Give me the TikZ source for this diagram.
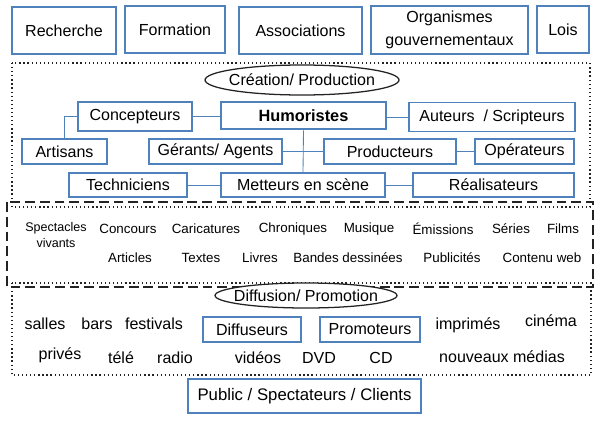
\documentclass[tikz,border=0pt]{standalone}
\usepackage{fontspec}
\setmainfont{Liberation Sans}
\usepackage{tikz}
\usetikzlibrary{shapes.geometric}
\definecolor{hmblue}{RGB}{79,129,189}
\definecolor{hmline}{RGB}{35,35,35}
\tikzset{
  hmBox/.style={draw=hmblue, line width=1.1pt, fill=white, align=center,
                inner sep=0pt, font=\fontsize{11.4}{16.4}\selectfont},
  hmBold/.style={hmBox, line width=1.8pt, font=\fontsize{11.6}{14}\selectfont\bfseries},
  hmOval/.style={draw=hmline, line width=0.9pt, fill=white},
  hmTitle/.style={inner sep=0pt, font=\fontsize{11.4}{13}\selectfont},
  hmLink/.style={draw=hmblue, line width=0.6pt},
  hmZone/.style={draw=hmline, line width=0.9pt, dotted},
  hmGroup/.style={draw=hmline, line width=0.9pt, dash pattern=on 7pt off 3.5pt},
  hmWord/.style={inner sep=0pt, font=\fontsize{9.5}{11}\selectfont},
  hmMedia/.style={inner sep=0pt, font=\fontsize{11.4}{13}\selectfont}
}

\begin{document}
\begin{tikzpicture}[x=0.025cm,y=-0.025cm]
  \useasboundingbox (0,0) rectangle (602,420);

  % environnement
  \node[hmBox, minimum width=2.6cm, minimum height=1.175cm] (rech) at (64,30.5) {Recherche};
  \node[hmBox, minimum width=2.5cm, minimum height=1.175cm] (form) at (175,29.5) {Formation};
  \node[hmBox, minimum width=3.075cm, minimum height=1.175cm] (assoc) at (300.5,30.5) {Associations};
  \node[hmBox, minimum width=3.925cm, minimum height=1.2cm] (orga) at (449.5,30) {Organismes\\gouvernementaux};
  \node[hmBox, minimum width=1.3cm, minimum height=1.175cm] (lois) at (563,29.5) {Lois};

  % creation / production
  \draw[hmZone] (12,63) rectangle (590,207);
  \coordinate (creaC) at (302,80);
  \draw[hmOval] (creaC) ellipse [x radius=97, y radius=15];
  \node[hmTitle] (crea) at (creaC) {Création/ Production};

  \node[hmBold, minimum width=4.125cm, minimum height=0.675cm] (hum) at (303.5,115.5) {Humoristes};
  \node[hmBox, minimum width=2.85cm, minimum height=0.725cm] (conc) at (135,116.5) {Concepteurs};
  \node[hmBox, minimum width=4.15cm, minimum height=0.725cm] (aut) at (492,117) {Auteurs~~/ Scripteurs};
  \node[hmBox, minimum width=2.125cm, minimum height=0.625cm] (art) at (64.5,151.5) {Artisans};
  \node[hmBox, minimum width=3.325cm, minimum height=0.625cm] (ger) at (215.5,151.5) {Gérants/ Agents};
  \node[hmBox, minimum width=3.3cm, minimum height=0.625cm] (prod) at (390,151.5) {Producteurs};
  \node[hmBox, minimum width=2.475cm, minimum height=0.625cm] (oper) at (524.5,151.5) {Opérateurs};
  \node[hmBox, minimum width=2.95cm, minimum height=0.6cm] (tech) at (128,185) {Techniciens};
  \node[hmBox, minimum width=4.1cm, minimum height=0.6cm] (mett) at (303,185) {Metteurs en scène};
  \node[hmBox, minimum width=4.025cm, minimum height=0.6cm] (real) at (493.5,185) {Réalisateurs};

  \draw[hmLink] (conc.east) -- (conc.east -| hum.west);
  \draw[hmLink] (aut.west -| hum.east) -- (aut.west);
  \draw[hmLink] (conc.west) -| (art.north);
  \draw[hmLink] (ger.east) -- (prod.west);
  \draw[hmLink] (prod.east) -- (oper.west);
  \draw[hmLink] (hum.south) -- (mett.north);
  \draw[hmLink] (tech.east) -- (mett.west);
  \draw[hmLink] (mett.east) -- (real.west);

  % oeuvres
  \draw[hmGroup] (7,202) rectangle (593,287);
  \node[hmWord, align=center, font=\fontsize{8.9}{12}\selectfont] (spec) at (56,235) {Spectacles\\vivants};
  \node[hmWord] (conco) at (128,229) {Concours};
  \node[hmWord] (cari) at (206,229) {Caricatures};
  \node[hmWord] (chro) at (293,229) {Chroniques};
  \node[hmWord] (musi) at (369,229) {Musique};
  \node[hmWord] (emis) at (443,229) {Émissions};
  \node[hmWord] (seri) at (511,229) {Séries};
  \node[hmWord] (film) at (563,229) {Films};
  \node[hmWord] (arti) at (130,258) {Articles};
  \node[hmWord] (text) at (201,258) {Textes};
  \node[hmWord] (livr) at (260,258) {Livres};
  \node[hmWord] (band) at (348,258) {Bandes dessinées};
  \node[hmWord] (publ) at (452,258) {Publicités};
  \node[hmWord] (cont) at (542,258) {Contenu web};

  % diffusion / promotion
  \draw[hmZone] (12,283) rectangle (591,375);
  \coordinate (diffC) at (306,295.5);
  \draw[hmOval] (diffC) ellipse [x radius=91, y radius=12.5];
  \node[hmTitle] (diff) at (diffC) {Diffusion/ Promotion};

  \node[hmBox, minimum width=2.45cm, minimum height=0.625cm] (diffu) at (252,329.5) {Diffuseurs};
  \node[hmBox, minimum width=2.5cm, minimum height=0.625cm] (promo) at (370,329.5) {Promoteurs};
  \node[hmMedia] (sall) at (45,324) {salles};
  \node[hmMedia] (bars) at (97,324) {bars};
  \node[hmMedia] (fest) at (154,324) {festivals};
  \node[hmMedia] (impr) at (468,325) {imprimés};
  \node[hmMedia] (cine) at (551,321) {cinéma};
  \node[hmMedia] (priv) at (60,355) {privés};
  \node[hmMedia] (tele) at (121,358) {télé};
  \node[hmMedia] (radi) at (175,358) {radio};
  \node[hmMedia] (vide) at (258,358) {vidéos};
  \node[hmMedia] (dvd) at (319,358) {DVD};
  \node[hmMedia] (cd) at (381,358) {CD};
  \node[hmMedia] (nouv) at (502,357) {nouveaux médias};

  \node[hmBox, line width=1.5pt, minimum width=5.825cm, minimum height=0.85cm,
        font=\fontsize{11.9}{14}\selectfont] (pub) at (304.5,396) {Public / Spectateurs / Clients};
\end{tikzpicture}
\end{document}
